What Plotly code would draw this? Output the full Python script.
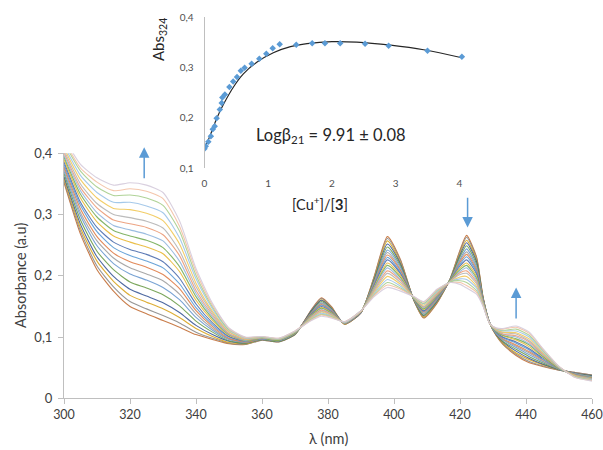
import plotly.graph_objects as go

# ---------------- main spectra data ----------------
wavelength = [300, 305, 310, 315, 320, 325, 330, 335, 340, 345, 350, 355, 360, 365, 370,
              375, 378, 381, 385, 390, 394, 398, 402, 406, 409, 413, 417, 420, 422, 425,
              427, 429, 431, 433, 437, 441, 445, 450, 455, 460]

# absorbance of the 20 titration spectra (first = no Cu+, last = end of titration) at each wavelength
A300 = [.352,.355,.359,.362,.367,.371,.375,.378,.382,.386,.390,.394,.397,.401,.405,.409,.413,.418,.421,.425]
A305 = [.268,.273,.278,.284,.291,.298,.303,.309,.315,.320,.327,.333,.339,.344,.350,.357,.364,.371,.376,.382]
A310 = [.210,.216,.224,.231,.240,.249,.257,.264,.272,.279,.288,.296,.303,.311,.318,.327,.336,.345,.353,.360]
A315 = [.175,.182,.191,.199,.210,.220,.229,.237,.246,.255,.265,.274,.282,.291,.300,.310,.320,.331,.339,.348]
A320 = [.150,.158,.168,.178,.190,.203,.213,.223,.233,.243,.255,.265,.275,.285,.295,.308,.320,.332,.342,.352]
A325 = [.138,.146,.157,.167,.180,.193,.203,.214,.224,.235,.247,.258,.268,.279,.289,.302,.314,.327,.338,.348]
A330 = [.127,.135,.146,.156,.169,.181,.192,.202,.213,.223,.236,.246,.257,.267,.278,.290,.303,.315,.326,.336]
A335 = [.116,.123,.132,.140,.151,.161,.170,.179,.187,.196,.207,.215,.224,.233,.241,.252,.262,.273,.281,.290]
A340 = [.104,.108,.114,.119,.126,.132,.138,.143,.148,.154,.160,.166,.171,.176,.182,.188,.195,.201,.207,.212]
A345 = [.096,.098,.101,.104,.108,.111,.114,.117,.120,.123,.127,.130,.133,.136,.139,.142,.146,.149,.152,.155]
A350 = [.089,.090,.091,.093,.094,.096,.097,.098,.100,.101,.103,.104,.105,.106,.108,.109,.111,.112,.114,.115]
A355 = [.088,.088,.089,.090,.090,.091,.092,.092,.093,.094,.094,.095,.095,.096,.097,.097,.098,.099,.099,.100]
A360 = [.095,.095,.096,.096,.096,.097,.097,.097,.097,.098,.098,.098,.099,.099,.099,.100,.100,.100,.101,.101]
A365 = [.092,.092,.093,.093,.093,.094,.094,.094,.094,.095,.095,.095,.096,.096,.096,.097,.097,.097,.098,.098]
A370 = [.104,.104,.105,.105,.105,.106,.106,.106,.106,.107,.107,.107,.108,.108,.108,.109,.109,.109,.110,.110]
A375 = [.145,.144,.143,.143,.141,.140,.139,.139,.138,.137,.136,.135,.134,.133,.132,.131,.130,.129,.128,.127]
A378 = [.164,.163,.161,.160,.158,.156,.155,.153,.152,.150,.148,.147,.145,.144,.142,.141,.139,.137,.136,.134]
A381 = [.150,.149,.148,.147,.146,.145,.144,.143,.142,.141,.140,.139,.138,.137,.136,.135,.134,.133,.132,.131]
A385 = [.121,.121,.121,.122,.122,.122,.122,.122,.123,.123,.123,.123,.123,.124,.124,.124,.124,.125,.125,.125]
A390 = [.140,.140,.140,.140,.141,.141,.141,.141,.141,.141,.142,.142,.142,.142,.142,.142,.143,.143,.143,.143]
A394 = [.199,.198,.196,.194,.192,.190,.189,.187,.186,.184,.182,.180,.179,.177,.175,.173,.171,.169,.168,.166]
A398 = [.264,.261,.257,.252,.247,.242,.238,.234,.230,.226,.221,.217,.213,.208,.204,.199,.194,.189,.185,.181]
A402 = [.226,.224,.221,.219,.216,.213,.210,.208,.205,.203,.200,.197,.194,.192,.189,.186,.183,.180,.178,.175]
A406 = [.160,.160,.161,.161,.161,.162,.162,.162,.162,.163,.163,.163,.164,.164,.164,.165,.165,.165,.166,.166]
A409 = [.131,.132,.133,.135,.136,.138,.139,.141,.142,.143,.145,.146,.148,.149,.150,.152,.154,.155,.157,.158]
A413 = [.155,.156,.157,.158,.160,.161,.162,.163,.164,.166,.167,.168,.169,.170,.172,.173,.174,.176,.177,.178]
A417 = [.195,.195,.194,.194,.194,.193,.193,.193,.193,.192,.192,.192,.191,.191,.191,.190,.190,.190,.189,.189]
A420 = [.242,.240,.237,.234,.231,.227,.225,.222,.219,.216,.213,.210,.207,.205,.202,.198,.195,.192,.189,.186]
A422 = [.266,.263,.258,.254,.249,.244,.239,.235,.231,.226,.221,.217,.213,.208,.204,.199,.194,.189,.184,.180]
A425 = [.231,.229,.226,.223,.219,.215,.212,.209,.206,.203,.199,.196,.193,.190,.187,.183,.180,.176,.173,.170]
A427 = [.165,.164,.164,.163,.162,.161,.160,.160,.159,.158,.157,.156,.156,.155,.154,.153,.152,.152,.151,.150]
A429 = [.123,.123,.123,.123,.123,.123,.123,.123,.123,.123,.122,.122,.122,.122,.122,.122,.122,.122,.122,.122]
A431 = [.102,.103,.103,.104,.105,.105,.106,.107,.107,.108,.109,.109,.110,.111,.111,.112,.113,.114,.114,.115]
A433 = [.088,.089,.090,.092,.093,.095,.096,.097,.099,.100,.102,.103,.104,.105,.107,.108,.110,.111,.113,.114]
A437 = [.070,.072,.074,.077,.080,.083,.085,.087,.090,.092,.095,.097,.100,.102,.105,.107,.110,.113,.116,.118]
A441 = [.058,.060,.063,.065,.068,.071,.074,.076,.079,.081,.084,.087,.089,.092,.094,.097,.100,.103,.106,.108]
A445 = [.052,.053,.055,.056,.058,.060,.061,.063,.064,.066,.068,.069,.071,.072,.074,.075,.077,.079,.081,.082]
A450 = [.046,.046,.047,.047,.047,.048,.048,.048,.048,.049,.049,.049,.050,.050,.050,.051,.051,.051,.052,.052]
A455 = [.042,.042,.041,.041,.040,.040,.040,.039,.039,.038,.038,.037,.037,.037,.036,.036,.035,.035,.034,.034]
A460 = [.038,.038,.037,.037,.036,.035,.035,.034,.034,.033,.033,.032,.032,.031,.031,.030,.030,.029,.029,.028]

rows = [A300, A305, A310, A315, A320, A325, A330, A335, A340, A345, A350, A355, A360, A365, A370,
        A375, A378, A381, A385, A390, A394, A398, A402, A406, A409, A413, A417, A420, A422, A425,
        A427, A429, A431, A433, A437, A441, A445, A450, A455, A460]

line_colors = ["#C47038", "#8C8C8C", "#D9A520", "#3D5A98", "#6E9E4C", "#6B9AD0", "#A0A0A0",
               "#E07F4A", "#5B9BD5", "#4F6FAF", "#E9B93A", "#79AE5A", "#93B6DE", "#EC9C78",
               "#B5B5B5", "#F2C95A", "#9DC4E8", "#A9CF8E", "#F4C1A4", "#D5CBDC"]

# ---------------- inset data ----------------
ratio = [0.00, 0.02, 0.06, 0.10, 0.13, 0.16, 0.19, 0.24, 0.27, 0.28, 0.32, 0.39, 0.45, 0.51,
         0.57, 0.63, 0.74, 0.86, 0.97, 1.07, 1.18, 1.44, 1.69, 1.89, 2.13, 2.52, 2.89, 3.50, 4.04]
abs324 = [0.138, 0.143, 0.152, 0.163, 0.177, 0.183, 0.199, 0.216, 0.229, 0.240, 0.246, 0.261,
          0.272, 0.281, 0.293, 0.299, 0.307, 0.317, 0.327, 0.338, 0.346, 0.345, 0.348, 0.348,
          0.348, 0.347, 0.343, 0.333, 0.321]
fit_ratio = [0.00, 0.09, 0.19, 0.30, 0.46, 0.61, 0.82, 1.08, 1.35, 1.61, 2.00, 2.39, 2.92, 3.44, 4.04]
fit_abs = [0.138, 0.165, 0.198, 0.227, 0.262, 0.287, 0.310, 0.329, 0.341, 0.347, 0.351, 0.350,
           0.344, 0.335, 0.319]

W, H = 603, 450
def px(x): return x / W
def py(y): return 1 - y / H

FONT = "Lato, Calibri, Carlito, sans-serif"
TXT = "#404040"
AXC = "#BFBFBF"

fig = go.Figure()

n_curves = len(A300)
for k in range(n_curves):
    fig.add_trace(go.Scatter(
        x=wavelength, y=[r[k] for r in rows], mode="lines",
        line=dict(color=line_colors[k], width=1.1, shape="spline", smoothing=0.6),
        opacity=0.9, xaxis="x", yaxis="y", showlegend=False, hoverinfo="skip"))

fig.add_trace(go.Scatter(
    x=fit_ratio, y=fit_abs, mode="lines",
    line=dict(color="#262626", width=1.2, shape="spline", smoothing=1.0),
    xaxis="x2", yaxis="y2", showlegend=False))
fig.add_trace(go.Scatter(
    x=ratio, y=abs324, mode="markers",
    marker=dict(color="#5B9BD5", size=5, symbol="diamond"),
    xaxis="x2", yaxis="y2", showlegend=False))

arrow = dict(xref="x", yref="y", axref="x", ayref="y", text="", showarrow=True,
             arrowhead=2, arrowsize=1.4, arrowwidth=1.5, arrowcolor="#5B9BD5", standoff=0)
lab = dict(xref="paper", yref="paper", showarrow=False, xanchor="center", yanchor="middle")
annotations = [
    dict(x=324.3, y=0.410, ax=324.3, ay=0.357, **arrow),
    dict(x=422.3, y=0.279, ax=422.3, ay=0.330, **arrow),
    dict(x=437.0, y=0.181, ax=437.0, ay=0.128, **arrow),
    dict(x=px(20), y=py(276), text="Absorbance (a.u)", textangle=-90,
         font=dict(size=14.5, color=TXT, family=FONT), **lab),
    dict(x=px(328), y=py(438), text="λ (nm)",
         font=dict(size=14.5, color=TXT, family=FONT), **lab),
    dict(x=px(159), y=py(40), text="Abs<sub>324</sub>", textangle=-90,
         font=dict(size=15, color="#262626", family=FONT), **lab),
    dict(x=px(320), y=py(203), text="[Cu<sup>+</sup>]/[<b>3</b>]",
         font=dict(size=14.5, color="#262626", family=FONT), **lab),
    dict(x=px(331), y=py(136), text="Logβ<sub>21</sub> = 9.91 ± 0.08",
         font=dict(size=16.5, color="#262626", family=FONT), **lab),
]

fig.update_layout(
    width=W, height=H, margin=dict(l=0, r=0, t=0, b=0, autoexpand=False),
    paper_bgcolor="white", plot_bgcolor="rgba(0,0,0,0)",
    separators=",.", font=dict(family=FONT, color=TXT),
    annotations=annotations,
    xaxis=dict(domain=[px(64), px(592)], range=[300, 460], dtick=20, tick0=300,
               showgrid=False, zeroline=False, showline=True, linecolor=AXC, linewidth=1,
               ticks="outside", ticklen=5, tickcolor=AXC, tickfont=dict(size=12.5, color=TXT),
               automargin=False, anchor="y"),
    yaxis=dict(domain=[py(398.3), py(153.3)], range=[0, 0.4], dtick=0.1,
               showgrid=False, zeroline=False, showline=True, linecolor=AXC, linewidth=1,
               ticks="outside", ticklen=5, tickcolor=AXC, tickfont=dict(size=13, color=TXT),
               ticklabelstandoff=3, automargin=False, anchor="x"),
    xaxis2=dict(domain=[px(204.5), px(467)], range=[0, 4.12], dtick=1, tick0=0,
                showgrid=False, zeroline=False, showline=False, ticks="",
                tickfont=dict(size=10, color="#505050"), ticklabelstandoff=8,
                automargin=False, anchor="y2"),
    yaxis2=dict(domain=[py(168), py(17)], range=[0.1, 0.4], dtick=0.1, tick0=0.1,
                showgrid=False, zeroline=False, showline=True, linecolor=AXC, linewidth=1,
                ticks="", tickfont=dict(size=10, color="#505050"), ticklabelstandoff=8,
                automargin=False, anchor="x2"),
)

fig.write_html("out.html", config={"displayModeBar": False},
               post_script="document.body.style.margin='0';document.body.style.padding='0';")
